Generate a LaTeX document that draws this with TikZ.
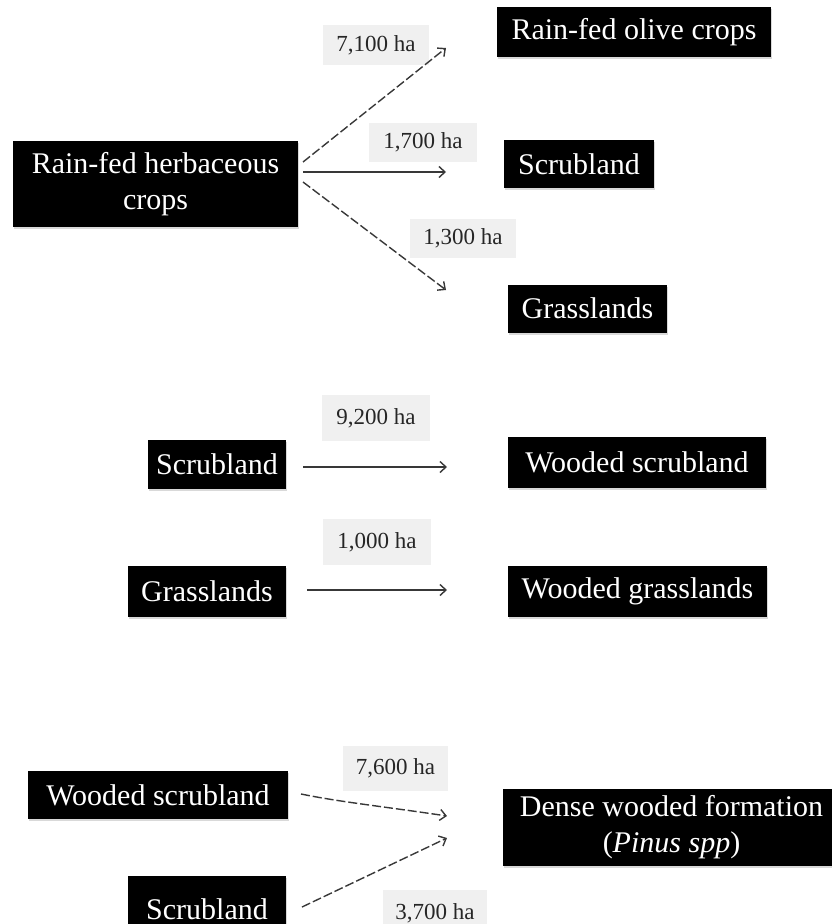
\documentclass[tikz,border=0pt]{standalone}
\usepackage{fontspec}
\setmainfont{Liberation Serif}
\usetikzlibrary{arrows.meta,shadows}
\begin{document}
\begin{tikzpicture}[x=1pt,y=-1pt,
  blk/.style={fill=black,text=white,inner sep=0pt,align=center,
    font=\fontsize{30}{36}\selectfont,
    drop shadow={shadow xshift=1pt,shadow yshift=-2pt,opacity=0.3}},
  lbl/.style={fill=black!6,inner sep=0pt,text=black!85,
    font=\fontsize{23}{26}\selectfont},
  arr/.style={draw=black!78,line width=1.4pt,-{Straight Barb[length=6pt,width=11pt]}},
  dsh/.style={arr,dash pattern=on 9pt off 3pt}]
\useasboundingbox (0,0) rectangle (831,924);
% top group
\node[blk,minimum width=285,minimum height=86] (herb) at (155.5,184) {Rain-fed herbaceous\\crops};
\node[blk,minimum width=274,minimum height=50] (olive) at (634,32) {Rain-fed olive crops};
\node[blk,minimum width=150,minimum height=48] (scrubA) at (579,164) {Scrubland};
\node[blk,minimum width=159,minimum height=48] (grassA) at (587.5,308.5) {Grasslands};
\node[lbl,minimum width=106,minimum height=40] (l71) at (376,45) {7,100 ha};
\node[lbl,minimum width=108,minimum height=39] (l17) at (423,142) {1,700 ha};
\node[lbl,minimum width=106,minimum height=39] (l13) at (463,238) {1,300 ha};
\coordinate (s1) at (303,162); \coordinate (e1) at (446,48);
\coordinate (s2) at (303,172); \coordinate (e2) at (446,172);
\coordinate (s3) at (303,182); \coordinate (e3) at (446,290);
\draw[dsh] (s1) -- (e1);
\draw[arr] (s2) -- (e2);
\draw[dsh] (s3) -- (e3);
% middle group
\node[blk,minimum width=138,minimum height=49] (scrubB) at (217,464.5) {Scrubland};
\node[blk,minimum width=258,minimum height=51] (wscrubB) at (637,462.5) {Wooded scrubland};
\node[lbl,minimum width=108,minimum height=46] (l92) at (376,418) {9,200 ha};
\coordinate (s4) at (303,467); \coordinate (e4) at (447,467);
\draw[arr] (s4) -- (e4);
\node[blk,minimum width=158,minimum height=51] (grassB) at (207,591.5) {Grasslands};
\node[blk,minimum width=259,minimum height=51] (wgrassB) at (637.5,591.5) {Wooded grasslands};
\node[lbl,minimum width=108,minimum height=46] (l10) at (377,542) {1,000 ha};
\coordinate (s5) at (307,590); \coordinate (e5) at (447,590);
\draw[arr] (s5) -- (e5);
% bottom group
\node[blk,minimum width=260,minimum height=48] (wscrubC) at (158,795) {Wooded scrubland};
\node[blk,minimum width=337,minimum height=77] (dense) at (671.5,827.5) {Dense wooded formation\\(\textit{Pinus spp})};
\node[blk,minimum width=158,minimum height=66] (scrubC) at (207,909) {Scrubland};
\node[lbl,minimum width=105,minimum height=45] (l76) at (395.5,768) {7,600 ha};
\node[lbl,minimum width=104,minimum height=46] (l37) at (435,913) {3,700 ha};
\coordinate (s6) at (301,794); \coordinate (e6) at (447,816);
\coordinate (s7) at (302,907); \coordinate (e7) at (447,838);
\draw[dsh] (s6) .. controls (340,802) and (380,806) .. (e6);
\draw[dsh] (s7) -- (e7);
\end{tikzpicture}
\end{document}
